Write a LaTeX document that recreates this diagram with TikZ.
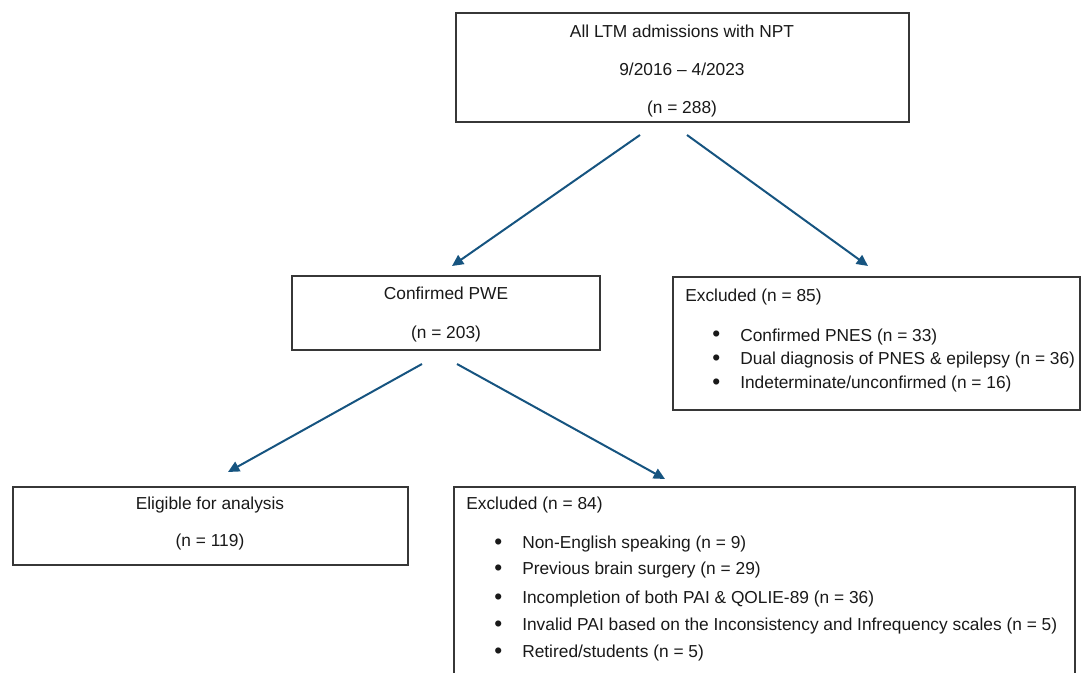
\documentclass[tikz,border=0pt]{standalone}
\usepackage{fontspec}
\setmainfont{Liberation Sans}
\usetikzlibrary{arrows.meta,fit}
\definecolor{FlowClr}{RGB}{22,84,128}
\definecolor{BoxClr}{RGB}{55,55,55}
\newcommand{\bulletitem}[1]{\makebox[21pt][l]{\raisebox{-0.6pt}{\fontsize{17}{17}\selectfont\textbullet}}#1}

\begin{document}
\begin{tikzpicture}[x=.75pt,y=-.75pt,
  box/.style={draw=BoxClr,line width=1pt,inner sep=0pt},
  txt/.style={inner sep=0pt,text height=9.3pt,text depth=0pt,text=black!90,font=\fontsize{13}{15}\selectfont},
  flow/.style={draw=FlowClr,line width=1.5pt,-{Triangle[length=8.5pt,width=8pt]}}]
\useasboundingbox (0,0) rectangle (1081,673);

\node[box,fit={(456,13) (909,122)}] (All) {};
\node[box,fit={(292,276) (600,350)}] (PWE) {};
\node[box,fit={(673,277) (1080,410)}] (ExclA) {};
\node[box,fit={(13,487) (408,565)}] (Elig) {};
\node[box,fit={(454,487) (1075,700)}] (ExclB) {};

\node[txt] (AllT1) at (682,31) {All LTM admissions with NPT};
\node[txt] (AllT2) at (682,69) {9/2016 – 4/2023};
\node[txt] (AllT3) at (682,107) {(n = 288)};

\node[txt] (PWET1) at (446,293) {Confirmed PWE};
\node[txt] (PWET2) at (446,332) {(n = 203)};

\node[txt,anchor=west] (ExclAT) at (685,295) {Excluded (n = 85)};
\node[txt,anchor=west] (ExclA1) at (712,335) {\bulletitem{Confirmed PNES (n = 33)}};
\node[txt,anchor=west] (ExclA2) at (712,358) {\bulletitem{Dual diagnosis of PNES \& epilepsy (n = 36)}};
\node[txt,anchor=west] (ExclA3) at (712,382) {\bulletitem{Indeterminate/unconfirmed (n = 16)}};

\node[txt] (EligT1) at (210,503) {Eligible for analysis};
\node[txt] (EligT2) at (210,540) {(n = 119)};

\node[txt,anchor=west] (ExclBT) at (466,503) {Excluded (n = 84)};
\node[txt,anchor=west] (ExclB1) at (494,542) {\bulletitem{Non-English speaking (n = 9)}};
\node[txt,anchor=west] (ExclB2) at (494,568) {\bulletitem{Previous brain surgery (n = 29)}};
\node[txt,anchor=west] (ExclB3) at (494,597) {\bulletitem{Incompletion of both PAI \& QOLIE-89 (n = 36)}};
\node[txt,anchor=west] (ExclB4) at (494,624) {\bulletitem{Invalid PAI based on the Inconsistency and Infrequency scales (n = 5)}};
\node[txt,anchor=west] (ExclB5) at (494,651) {\bulletitem{Retired/students (n = 5)}};

\coordinate (AllL) at (640,135);
\coordinate (AllR) at (687,135);
\coordinate (PWEIn) at (452,266);
\coordinate (ExclAIn) at (868,266);
\coordinate (PWEL) at (422,364);
\coordinate (PWER) at (457,364);
\coordinate (EligIn) at (228,472);
\coordinate (ExclBIn) at (665,479);

\draw[flow] (AllL) -- (PWEIn);
\draw[flow] (AllR) -- (ExclAIn);
\draw[flow] (PWEL) -- (EligIn);
\draw[flow] (PWER) -- (ExclBIn);

\end{tikzpicture}
\end{document}
